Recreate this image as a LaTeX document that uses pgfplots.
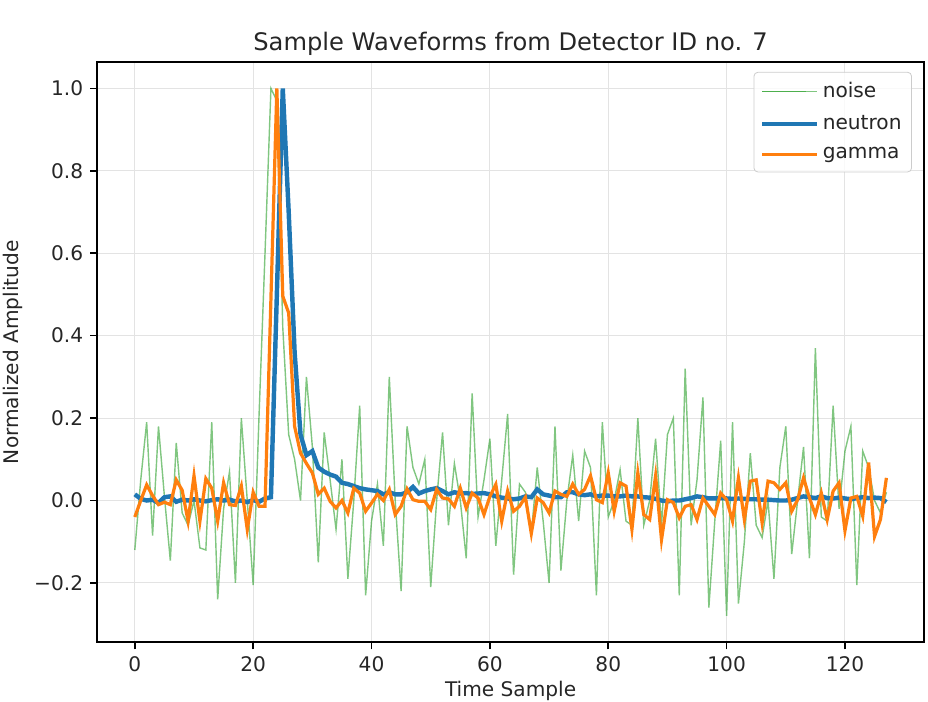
\documentclass[border=0pt]{standalone}
\usepackage{pgfplots}
\pgfplotsset{compat=1.18}
\usepackage{pgfplotstable}
\usepackage{fontspec}
\setmainfont{DejaVu Sans}
\definecolor{mplblue}{HTML}{1F77B4}
\definecolor{mplorange}{HTML}{FF7F0E}
\definecolor{mplgreen}{HTML}{2CA02C}
\pgfplotstableread{
i noise neutron gamma
0 -0.12 0.015 -0.04
1 0.05 0.004 0.0
2 0.19 0.0 0.038
3 -0.085 0.002 0.012
4 0.18 -0.006 -0.01
5 0.01 0.008 -0.004
6 -0.146 0.01 -0.01
7 0.14 -0.003 0.05
8 -0.03 0.002 0.025
9 -0.06 0.0 -0.05
10 0.0 0.003 0.06
11 -0.115 0.0 -0.05
12 -0.12 -0.002 0.053
13 0.19 0.001 0.03
14 -0.24 0.003 -0.05
15 -0.02 0.0 0.043
16 0.07 0.002 -0.01
17 -0.20 -0.002 -0.012
18 0.20 0.0 0.035
19 0.0 -0.004 -0.07
20 -0.205 0.001 0.02
21 0.21 -0.003 -0.014
22 0.6 0.005 -0.014
23 1.0 0.008 0.49
24 0.97 0.5 1.0
25 0.42 1.0 0.496
26 0.16 0.70 0.455
27 0.10 0.36 0.18
28 0.0 0.16 0.115
29 0.30 0.11 0.09
30 0.13 0.12 0.067
31 -0.15 0.08 0.015
32 0.165 0.07 0.03
33 0.05 0.063 -0.002
34 -0.07 0.058 -0.018
35 0.10 0.043 0.0
36 -0.19 0.04 -0.03
37 0.0 0.035 0.03
38 0.23 0.03 0.018
39 -0.23 0.027 -0.026
40 -0.05 0.025 -0.006
41 0.04 0.023 0.015
42 -0.11 0.015 0.0
43 0.30 0.02 0.027
44 0.0 0.015 -0.034
45 -0.22 0.015 -0.014
46 0.18 0.02 0.028
47 0.08 0.033 0.002
48 0.04 0.017 -0.002
49 0.10 0.023 -0.002
50 -0.21 0.027 -0.022
51 0.0 0.03 0.027
52 0.165 0.023 0.006
53 -0.06 0.015 0.004
54 0.09 0.02 -0.014
55 0.0 0.017 0.03
56 -0.14 0.018 -0.018
57 0.26 0.016 0.018
58 -0.04 0.017 0.006
59 0.05 0.018 -0.034
60 0.15 0.015 0.01
61 -0.11 0.01 0.039
62 0.05 0.007 -0.05
63 0.21 0.005 0.023
64 -0.18 0.003 -0.026
65 0.04 0.005 -0.014
66 0.02 0.01 0.008
67 -0.08 0.008 -0.08
68 0.08 0.027 0.006
69 -0.05 0.015 -0.005
70 -0.20 0.012 -0.03
71 0.18 0.008 0.023
72 -0.17 0.008 0.015
73 0.0 0.02 0.01
74 0.11 0.02 0.04
75 -0.05 0.015 0.015
76 0.12 0.013 0.027
77 0.08 0.015 0.06
78 -0.23 0.01 0.002
79 0.19 0.012 -0.005
80 -0.04 0.012 0.067
81 0.0 0.01 -0.026
82 0.075 0.01 0.043
83 -0.05 0.012 0.035
84 -0.06 0.01 -0.07
85 0.20 0.01 0.067
86 -0.06 0.008 -0.034
87 0.0 0.007 -0.046
88 0.15 0.004 0.06
89 -0.06 0.0 -0.095
90 0.16 -0.002 0.002
91 0.20 0.0 -0.005
92 -0.23 0.0 -0.042
93 0.32 0.003 -0.014
94 -0.06 0.006 -0.01
95 0.05 0.01 -0.046
96 0.25 0.008 0.006
97 -0.26 0.005 -0.014
98 -0.05 0.005 -0.034
99 0.145 0.006 0.018
100 -0.28 0.005 0.002
101 0.19 0.004 -0.05
102 -0.25 0.005 0.055
103 -0.10 0.004 -0.046
104 0.115 0.003 0.047
105 -0.06 0.003 0.05
106 -0.09 0.002 -0.054
107 0.0 0.002 0.047
108 -0.19 0.001 0.043
109 0.08 0.0 0.027
110 0.18 0.0 0.043
111 -0.13 0.002 -0.026
112 0.0 0.006 0.002
113 0.13 0.01 0.055
114 -0.14 0.008 0.006
115 0.37 0.006 -0.034
116 -0.04 0.01 0.018
117 -0.05 0.006 -0.046
118 0.23 0.005 0.023
119 -0.02 0.007 0.043
120 0.12 0.005 -0.073
121 0.18 0.003 0.006
122 -0.205 0.006 0.01
123 0.12 0.008 -0.038
124 0.08 0.006 0.092
125 0.0 0.007 -0.087
126 -0.03 0.006 -0.046
127 0.02 -0.004 0.055
}\wavedata
\begin{document}
\begin{tikzpicture}
\begin{axis}[
  scale only axis,
  width=410.6pt, height=288.2pt,
  xmin=-6.35, xmax=133.35,
  ymin=-0.344, ymax=1.064,
  xtick={0,20,40,60,80,100,120},
  xticklabels={0,20,40,60,80,100,120},
  ytick={-0.2,0,0.2,0.4,0.6,0.8,1.0},
  yticklabels={−0.2,0.0,0.2,0.4,0.6,0.8,1.0},
  tick align=outside,
  major tick length=3.5pt,
  tick style={black, line width=0.8pt},
  axis line style={black, line width=0.8pt},
  xtick pos=bottom, ytick pos=left,
  grid=major,
  major grid style={gray!22, line width=0.5pt},
  ticklabel style={font=\fontsize{10}{12}\selectfont, text=black!85},
  title={Sample Waveforms from Detector ID no. 7},
  title style={font=\fontsize{12}{14}\selectfont, text=black!85, at={(axis description cs:0.5,1)}, anchor=base, yshift=-0.5pt},
  xlabel={Time Sample},
  ylabel={Normalized Amplitude},
  xlabel style={font=\fontsize{10}{12}\selectfont, text=black!85, at={(axis description cs:0.5,-0.094)}, anchor=base},
  ylabel style={font=\fontsize{10}{12}\selectfont, text=black!85, at={(axis description cs:-0.1023,0.5)}, anchor=center},
  legend cell align=left,
  legend style={at={(axis description cs:0.9855,0.983)}, anchor=north east,
    draw=black!20, rounded corners=2pt, fill=white, fill opacity=0.8, text opacity=1,
    font=\fontsize{10}{12}\selectfont, row sep=3.4pt, inner sep=3pt, text=black!85},
  legend image code/.code={\draw[#1] (0pt,0pt) -- (22pt,0pt); \path (0pt,0pt) -- (27pt,0pt);},
]
\addplot[mplgreen, opacity=0.6, line width=0.7pt] table[x=i, y=noise] {\wavedata};
\addlegendentry{noise}
\addplot[mplblue, line width=2.2pt] table[x=i, y=neutron] {\wavedata};
\addlegendentry{neutron}
\addplot[mplorange, line width=1.6pt] table[x=i, y=gamma] {\wavedata};
\addlegendentry{gamma}
\end{axis}
\pgfresetboundingbox
\path[use as bounding box] ([xshift=-48.3pt, yshift=-29.65pt]current axis.south west) rectangle ([xshift=2pt, yshift=30.8pt]current axis.north east);
\end{tikzpicture}
\end{document}
